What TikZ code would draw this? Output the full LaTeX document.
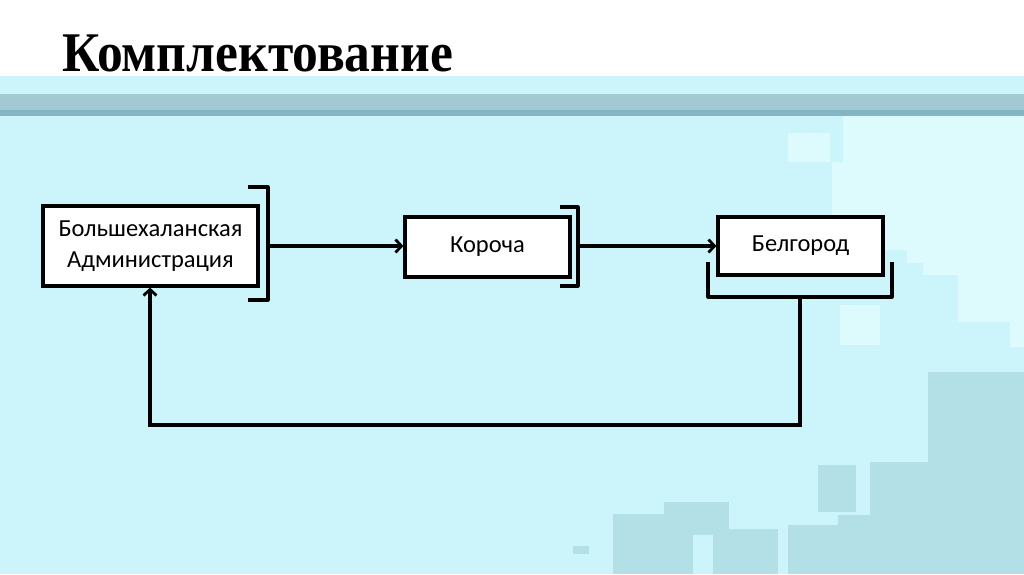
\documentclass[tikz,border=0pt]{standalone}
\usepackage{fontspec}
\setmainfont{Carlito}
\newfontfamily\titlefont{Liberation Serif}
\usetikzlibrary{arrows.meta}
\definecolor{bgc}{HTML}{CCF5FB}
\definecolor{lightc}{HTML}{DDFAFD}
\definecolor{darkc}{HTML}{B2E0E6}
\definecolor{bandA}{HTML}{A3CAD3}
\definecolor{bandB}{HTML}{83B5C3}
\tikzset{
  x=1pt, y=-1pt,
  boxnode/.style={draw=black, line width=3.2pt, fill=white, align=center, font=\fontsize{24.5}{31}\selectfont, inner sep=0pt},
  brk/.style={draw=black, line width=3.2pt, line join=round},
  conn/.style={draw=black, line width=3.2pt, -{Straight Barb[length=6pt,width=13pt,line width=2.8pt]}},
}
\begin{document}
\begin{tikzpicture}
\useasboundingbox (0,0) rectangle (1024,574);
% background
\fill[white] (0,0) rectangle (1024,76);
\fill[bgc] (0,76) rectangle (1024,574);
\fill[bandA] (0,94) rectangle (1024,110);
\fill[bandB] (0,110) rectangle (1024,116);
% lighter decorations
\fill[lightc] (843,116) -- (1024,116) -- (1024,347) -- (1010,347) -- (1010,322) -- (958,322) -- (958,275) -- (923,275) -- (923,263) -- (907,263) -- (907,250) -- (832,250) -- (832,162) -- (843,162) -- cycle;
\fill[lightc] (788,133) rectangle (830,162);
\fill[lightc] (840,305) rectangle (880,345);
% darker decorations
\fill[darkc] (928,372) rectangle (1024,574);
\fill[darkc] (870,462) rectangle (928,574);
\fill[darkc] (818,465) rectangle (856,512);
\fill[darkc] (838,515) rectangle (870,574);
\fill[darkc] (788,525) rectangle (838,574);
\fill[darkc] (713,529) rectangle (778,574);
\fill[darkc] (664,502) rectangle (729,529);
\fill[darkc] (613,514) rectangle (693,574);
\fill[darkc] (664,502) rectangle (713,535);
\fill[darkc] (573,546) rectangle (589,554);
% title
\node[anchor=base west, inner sep=0pt, font=\titlefont\bfseries\fontsize{56}{56}\selectfont] (title) at (62,71) {\scalebox{0.92}[1]{Комплектование}};
% boxes
\node[boxnode, minimum width=215pt, minimum height=80pt] (b1) at (150.5,246) {Большехаланская\\Администрация};
\node[boxnode, minimum width=165pt, minimum height=60pt] (b2) at (487.5,247) {\raisebox{1pt}{Короча}};
\node[boxnode, minimum width=165pt, minimum height=58pt] (b3) at (800.5,246) {Белгород};
% brackets
\draw[brk] (248,187) -- (268,187) -- (268,300) -- (248,300);
\draw[brk] (560,207) -- (578,207) -- (578,286) -- (560,286);
\draw[brk] (708,262) -- (708,297) -- (892,297) -- (892,262);
\coordinate (k1) at (268,246);
\coordinate (k2) at (578,246);
\coordinate (k3) at (800,297);
\coordinate (c1) at (800,425);
\coordinate (c2) at (150,425);
% connectors
\draw[conn] (k1) -- (b2.west |- k1);
\draw[conn] (k2) -- (b3.west |- k2);
\draw[conn] (k3) -- (c1) -- (c2) -- (b1.south -| c2);
\end{tikzpicture}
\end{document}
